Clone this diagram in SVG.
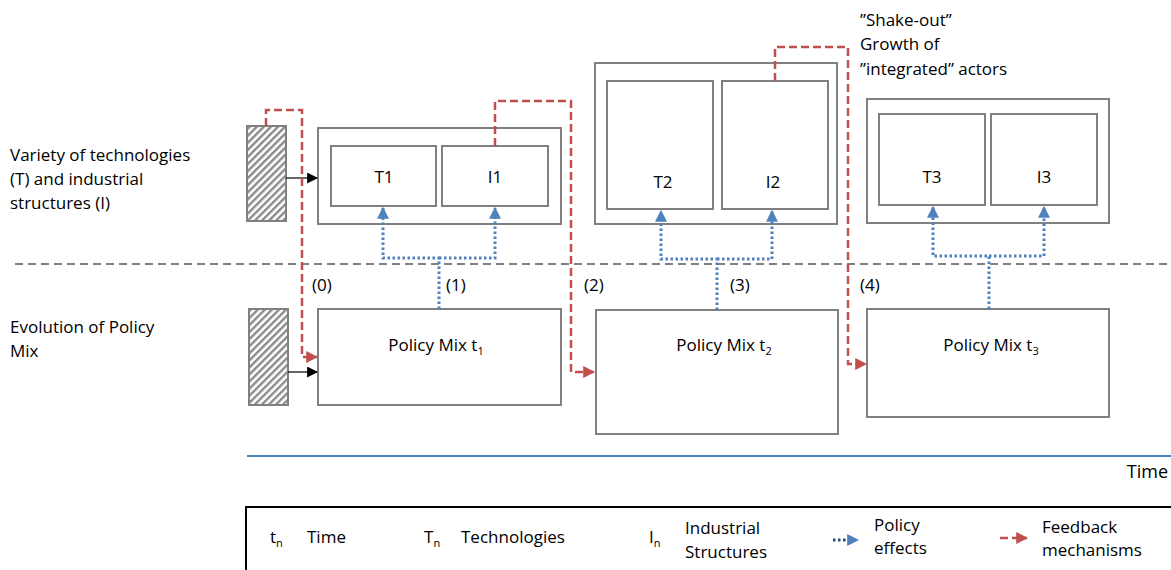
<svg xmlns="http://www.w3.org/2000/svg" width="1171" height="570" viewBox="0 0 1171 570">
<defs>
<style>
text{font-family:"Open Sans","Liberation Sans",sans-serif;font-size:17px;fill:#000}
.box{fill:#fff;stroke:#808080;stroke-width:2}
.hatch{fill:url(#hp);stroke:#808080;stroke-width:2}
.red{fill:none;stroke:#C0504D;stroke-width:2.5;stroke-dasharray:8 4}
.blue{fill:none;stroke:#4F81BD;stroke-width:3;stroke-dasharray:2.5 2.5}
.blk{fill:none;stroke:#000;stroke-width:1.2}
.mid{text-anchor:middle}
</style>
<pattern id="hp" patternUnits="userSpaceOnUse" width="5" height="5" patternTransform="rotate(45)">
<rect width="5" height="5" fill="#fff"/>
<rect width="2.4" height="5" fill="#8a8a8a"/>
</pattern>
<marker id="ar" viewBox="0 0 10 10" refX="9" refY="5" markerWidth="12" markerHeight="12" markerUnits="userSpaceOnUse" orient="auto"><path d="M0,0L10,5L0,10z" fill="#C0504D"/></marker>
<marker id="ab" viewBox="0 0 10 10" refX="9" refY="5" markerWidth="12" markerHeight="12" markerUnits="userSpaceOnUse" orient="auto"><path d="M0,0L10,5L0,10z" fill="#4F81BD"/></marker>
<marker id="ak" viewBox="0 0 10 10" refX="9" refY="5" markerWidth="11" markerHeight="11" markerUnits="userSpaceOnUse" orient="auto"><path d="M0,0L10,5L0,10z" fill="#000"/></marker>
</defs>
<rect width="1171" height="570" fill="#fff"/>

<g id="labels">
<text x="10" y="161">Variety of technologies</text>
<text x="10" y="185">(T) and industrial</text>
<text x="10" y="209">structures (I)</text>
<text x="10" y="333">Evolution of Policy</text>
<text x="10" y="357">Mix</text>
<text x="860" y="26">”Shake-out”</text>
<text x="860" y="50">Growth of</text>
<text x="860" y="75">”integrated” actors</text>
</g>

<line x1="15" y1="264" x2="1171" y2="264" stroke="#808080" stroke-width="2" stroke-dasharray="8 5"/>

<g id="hatch1"><rect class="hatch" x="247" y="126" width="39" height="95"/></g>
<g id="hatch2"><rect class="hatch" x="249" y="309" width="39" height="96"/></g>

<g id="stage1">
<rect class="box" x="318" y="128" width="243" height="96"/>
<g id="T1"><rect class="box" x="331" y="146" width="105" height="60"/><text class="mid" x="384" y="183">T1</text></g>
<g id="I1"><rect class="box" x="442" y="146" width="106" height="60"/><text class="mid" x="495" y="183">I1</text></g>
</g>
<g id="stage2">
<rect class="box" x="595" y="63" width="242" height="161"/>
<g id="T2"><rect class="box" x="607" y="81" width="106" height="128"/><text class="mid" x="663" y="188">T2</text></g>
<g id="I2"><rect class="box" x="722" y="81" width="106" height="128"/><text class="mid" x="773" y="188">I2</text></g>
</g>
<g id="stage3">
<rect class="box" x="867" y="99" width="242" height="124"/>
<g id="T3"><rect class="box" x="879" y="114" width="106" height="91"/><text class="mid" x="932" y="183">T3</text></g>
<g id="I3"><rect class="box" x="991" y="114" width="106" height="91"/><text class="mid" x="1044" y="183">I3</text></g>
</g>

<g id="pm1"><rect class="box" x="318" y="309" width="243" height="96"/><text class="mid" x="436" y="351">Policy Mix t<tspan font-size="11" dy="4">1</tspan></text></g>
<g id="pm2"><rect class="box" x="596" y="310" width="242" height="124"/><text class="mid" x="724" y="351">Policy Mix t<tspan font-size="11" dy="4">2</tspan></text></g>
<g id="pm3"><rect class="box" x="867" y="309" width="242" height="108"/><text class="mid" x="991" y="351">Policy Mix t<tspan font-size="11" dy="4">3</tspan></text></g>

<g id="connectors">
<line class="blk" x1="286" y1="178" x2="317" y2="178" marker-end="url(#ak)"/>
<line class="blk" x1="288" y1="372" x2="317" y2="372" marker-end="url(#ak)"/>
<path class="red" d="M266,126V110H302V357H317" marker-end="url(#ar)"/>
<path class="red" d="M495,146V101H571V372H594" marker-end="url(#ar)"/>
<path class="red" d="M775,81V47H848V364H866" marker-end="url(#ar)"/>
<path class="blue" d="M439,309V258H383V208" marker-end="url(#ab)"/>
<path class="blue" d="M439,258H495V208" marker-end="url(#ab)"/>
<path class="blue" d="M717,310V259H661V211" marker-end="url(#ab)"/>
<path class="blue" d="M717,259H772V211" marker-end="url(#ab)"/>
<path class="blue" d="M989,309V256H933V207" marker-end="url(#ab)"/>
<path class="blue" d="M989,256H1044V207" marker-end="url(#ab)"/>
</g>

<g id="steps">
<text x="312" y="291">(0)</text>
<text x="446" y="291">(1)</text>
<text x="584" y="291">(2)</text>
<text x="730" y="291">(3)</text>
<text x="860" y="291">(4)</text>
</g>

<g id="timeline">
<line x1="247" y1="456" x2="1171" y2="456" stroke="#4F81BD" stroke-width="2"/>
<text x="1168" y="478" text-anchor="end" style="font-size:18px">Time</text>
</g>

<g id="legend">
<path d="M246,570V507H1171" fill="none" stroke="#000" stroke-width="2"/>
<text x="270" y="543">t<tspan font-size="11" dy="4">n</tspan></text>
<text x="307" y="543">Time</text>
<text x="424" y="543">T<tspan font-size="11" dy="4">n</tspan></text>
<text x="461" y="543">Technologies</text>
<text x="649" y="543">I<tspan font-size="11" dy="4">n</tspan></text>
<text x="685" y="534">Industrial</text>
<text x="685" y="558">Structures</text>
<line x1="833" y1="540" x2="858" y2="540" stroke="#1F4E79" stroke-width="3" stroke-dasharray="2.5 2.5" marker-end="url(#ab)"/>
<text x="874" y="531">Policy</text>
<text x="874" y="554">effects</text>
<line x1="1000" y1="538" x2="1027" y2="538" class="red" marker-end="url(#ar)"/>
<text x="1042" y="533">Feedback</text>
<text x="1042" y="556">mechanisms</text>
</g>
</svg>
